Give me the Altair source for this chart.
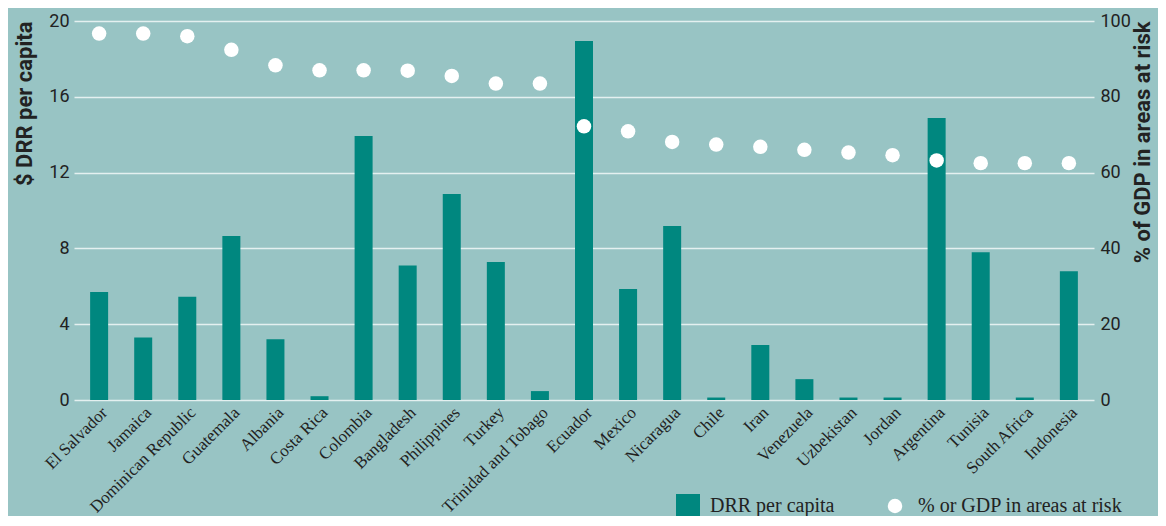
import altair as alt
import pandas as pd

countries = ["El Salvador", "Jamaica", "Dominican Republic", "Guatemala", "Albania",
             "Costa Rica", "Colombia", "Bangladesh", "Philippines", "Turkey",
             "Trinidad and Tobago", "Ecuador", "Mexico", "Nicaragua", "Chile", "Iran",
             "Venezuela", "Uzbekistan", "Jordan", "Argentina", "Tunisia",
             "South Africa", "Indonesia"]
drr_per_capita = [5.7, 3.3, 5.45, 8.65, 3.2, 0.2, 13.93, 7.1, 10.87, 7.28, 0.47, 18.94,
                  5.86, 9.18, 0.13, 2.9, 1.1, 0.13, 0.13, 14.88, 7.8, 0.13, 6.8]
gdp_at_risk = [96.7, 96.7, 96.0, 92.4, 88.3, 87.0, 87.0, 86.9, 85.5, 83.5, 83.5, 72.2,
               70.9, 68.1, 67.4, 66.8, 66.0, 65.3, 64.6, 63.2, 62.5, 62.5, 62.5]
left_ticks = [0, 4, 8, 12, 16, 20]
right_ticks = [0, 20, 40, 60, 80, 100]
series_bar = "DRR per capita"
series_dot = "% or GDP in areas at risk"

df = pd.DataFrame({
    "country": countries,
    "drr": drr_per_capita,
    "gdp": gdp_at_risk,
    "s1": series_bar,
    "s2": series_dot,
})

BG = "#98c4c4"
TEAL = "#00877f"
TXT = "#222222"
SANS = "Roboto, Liberation Sans, sans-serif"
SERIF = "Liberation Serif, DejaVu Serif, serif"

x = alt.X(
    "country:N", sort=countries,
    scale=alt.Scale(paddingInner=0.5, paddingOuter=0.32),
    axis=alt.Axis(title=None, labelAngle=315, labelAlign="right", labelBaseline="top",
                  labelFont=SERIF, labelFontSize=17, labelColor=TXT, labelPadding=4,
                  ticks=False, domain=False, grid=False, labelOverlap=False),
)

bars = alt.Chart(df).mark_bar(size=18).encode(
    x=x,
    y=alt.Y("drr:Q", scale=alt.Scale(domain=[0, 20], nice=False),
            axis=alt.Axis(values=left_ticks, title="$ DRR per capita", titleAnchor="end",
                          titleFont=SANS, titleFontSize=22, titleFontWeight="bold",
                          titleColor=TXT, titlePadding=12,
                          labelFont=SANS, labelFontSize=18, labelColor=TXT, labelPadding=5,
                          ticks=False, domain=False, grid=True, gridColor="#e4f0f0",
                          gridWidth=1.5)),
    color=alt.Color("s1:N", scale=alt.Scale(domain=[series_bar], range=[TEAL]),
                    legend=alt.Legend(title=None, orient="none", legendX=602, legendY=473,
                                      symbolType="square", symbolSize=576, padding=0,
                                      labelFont=SERIF, labelFontSize=20, labelColor=TXT,
                                      labelOffset=10, labelLimit=400, symbolStrokeWidth=0)),
)

dots = alt.Chart(df).mark_point(filled=True, color="white", size=210, opacity=1).encode(
    x=x,
    y=alt.Y("gdp:Q", scale=alt.Scale(domain=[0, 100], nice=False),
            axis=alt.Axis(values=right_ticks, orient="right",
                          title="% of GDP in areas  at risk", titleAnchor="end",
                          titleAngle=270, titleBaseline="top",
                          titleFont=SANS, titleFontSize=22, titleFontWeight="bold",
                          titleColor=TXT, titlePadding=2,
                          labelFont=SANS, labelFontSize=18, labelColor=TXT, labelPadding=6,
                          ticks=False, domain=False, grid=False)),
    shape=alt.Shape("s2:N", scale=alt.Scale(domain=[series_dot], range=["circle"]),
                    legend=alt.Legend(title=None, orient="none", legendX=811, legendY=475,
                                      symbolSize=210, symbolFillColor="white",
                                      symbolStrokeColor="white", symbolStrokeWidth=0,
                                      padding=0, labelFont=SERIF, labelFontSize=20,
                                      labelColor=TXT, labelOffset=13, labelLimit=400)),
)

chart = alt.layer(bars, dots).resolve_scale(y="independent", color="independent").properties(
    width=1020, height=379,
    background=BG,
    padding={"left": 66, "top": 13, "right": 64, "bottom": 116},
    autosize=alt.AutoSizeParams(type="none"),
).configure_view(stroke=None)

chart.save("out.html", embed_options={"renderer": "svg", "actions": False})
